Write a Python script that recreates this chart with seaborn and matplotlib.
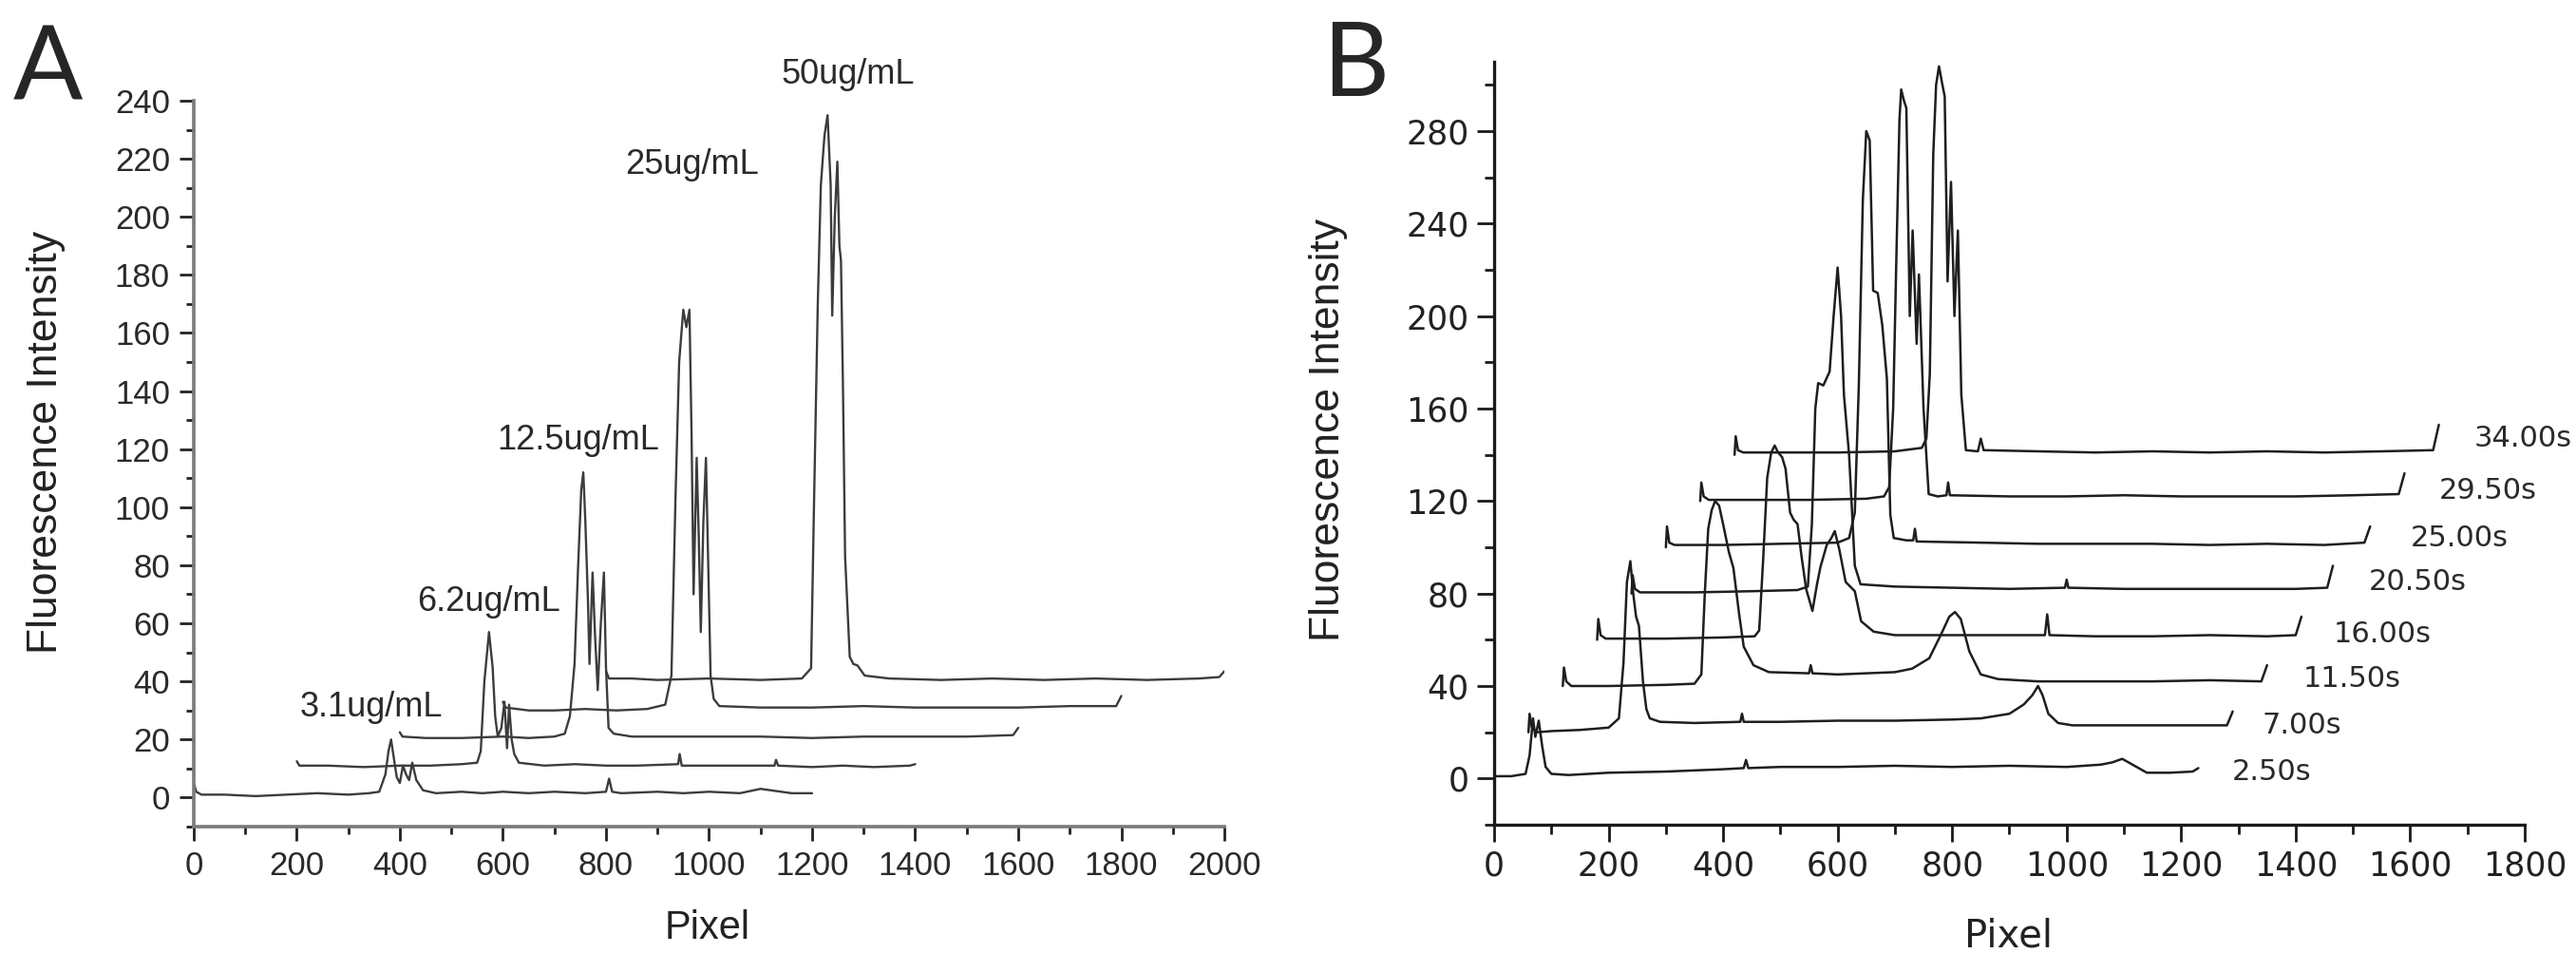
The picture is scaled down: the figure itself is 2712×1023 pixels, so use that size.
import numpy as np
import pandas as pd
import seaborn as sns
import matplotlib.pyplot as plt
from matplotlib.ticker import MultipleLocator

# ---- Panel A: concentration series (pixel, fluorescence intensity) ----
A_NAMES = ["3.1ug/mL", "6.2ug/mL", "12.5ug/mL", "25ug/mL", "50ug/mL"]
A_3_1 = [(0, 5), (5, 2), (15, 1), (60, 1), (120, 0.5), (180, 1), (240, 1.5), (300, 1),
         (340, 1.5), (360, 2), (372, 8), (378, 16), (383, 20), (388, 14), (394, 7),
         (400, 5), (406, 11), (412, 8), (418, 6), (424, 12), (432, 6), (445, 2.5),
         (470, 1.5), (520, 2), (560, 1.5), (600, 2), (650, 1.5), (700, 2), (760, 1.5),
         (800, 2), (806, 6.5), (812, 2), (830, 1.5), (900, 2), (950, 1.5), (1000, 2),
         (1060, 1.5), (1100, 3), (1140, 2), (1160, 1.5), (1200, 1.5)]
A_6_2 = [(200, 12.5), (205, 11), (260, 11), (330, 10.5), (400, 11), (460, 11), (520, 11.5),
         (550, 12), (557, 16), (564, 40), (573, 57), (580, 45), (585, 28), (590, 21),
         (597, 24), (603, 33), (608, 17), (612, 32), (617, 20), (622, 15), (631, 12),
         (680, 11), (740, 11.5), (800, 11), (860, 11), (940, 11.5), (943, 15), (947, 11),
         (1000, 11), (1060, 11), (1127, 11), (1130, 13), (1134, 11), (1200, 10.5),
         (1260, 11), (1320, 10.5), (1390, 11), (1400, 11.5)]
A_12_5 = [(400, 22.5), (405, 21), (450, 20.5), (520, 20.5), (600, 21), (650, 20.5),
          (700, 21), (720, 22), (730, 28), (739, 46), (746, 80), (752, 106), (756, 112),
          (760, 95), (765, 68), (768, 46), (774, 77.5), (779, 55), (784, 37), (790, 60),
          (796, 77.5), (800, 45), (805, 24), (815, 22), (850, 21), (900, 21), (1000, 21),
          (1100, 21), (1200, 20.5), (1300, 21), (1400, 21), (1500, 21), (1590, 21.5),
          (1600, 24)]
A_25 = [(600, 33), (605, 31), (650, 30), (700, 30), (760, 30.5), (820, 30), (880, 30.5),
        (915, 32), (927, 42), (935, 104), (942, 150), (950, 168), (956, 162), (962, 168),
        (966, 126), (970, 70), (976, 117), (980, 90), (984, 57), (989, 95), (994, 117),
        (1003, 42), (1009, 34), (1020, 31.5), (1100, 31), (1200, 31), (1300, 31.5),
        (1400, 31), (1500, 31), (1600, 31), (1700, 31.5), (1790, 31.5), (1800, 35)]
A_50 = [(800, 43.5), (806, 41), (850, 41), (900, 40.5), (1000, 41), (1100, 40.5),
        (1180, 41), (1198, 44.5), (1204, 104), (1211, 170), (1217, 211), (1224, 228),
        (1230, 235), (1236, 211), (1239, 166), (1244, 200), (1249, 219), (1253, 190),
        (1256, 185), (1260, 140), (1264, 83), (1273, 48.5), (1280, 46), (1288, 45.5),
        (1302, 42), (1350, 41), (1450, 40.5), (1550, 41), (1650, 40.5), (1750, 41),
        (1850, 40.5), (1950, 41), (1990, 41.5), (2000, 43.5)]
A_SERIES = [A_3_1, A_6_2, A_12_5, A_25, A_50]
A_LABEL_POS = [(345, 31), (572, 67.5), (746, 123), (966, 218), (1270, 249)]

# ---- Panel B: time series (pixel, fluorescence intensity) ----
B_NAMES = ["2.50s", "7.00s", "11.50s", "16.00s", "20.50s", "25.00s", "29.50s", "34.00s"]
B_2_50 = [(0, 1), (30, 1), (55, 2), (62, 10), (68, 26), (72, 18), (78, 25), (84, 14),
          (90, 5), (100, 2), (130, 1.5), (200, 2.5), (300, 3), (400, 4), (436, 4.5),
          (440, 8), (444, 4.5), (500, 5), (600, 5), (700, 5.5), (800, 5), (900, 5.5),
          (1000, 5), (1060, 6), (1080, 7), (1097, 8.5), (1115, 6), (1140, 2.5),
          (1180, 2.5), (1220, 3), (1230, 4.5)]
B_7_00 = [(60, 20), (62, 28), (66, 22), (75, 20), (100, 20.5), (150, 21), (200, 22),
          (218, 26), (226, 50), (232, 85), (238, 94), (243, 80), (248, 70), (253, 66),
          (260, 42), (266, 30), (272, 26), (290, 24.5), (350, 24), (430, 24.5),
          (433, 28), (436, 24.5), (500, 24.5), (600, 25), (700, 25), (800, 25.5),
          (850, 26), (900, 28), (925, 32), (940, 36), (950, 40), (958, 36), (968, 28),
          (985, 24), (1010, 23), (1100, 23), (1200, 23), (1280, 23), (1290, 29)]
B_11_50 = [(120, 40), (122, 48), (126, 42), (135, 40), (200, 40), (300, 40.5), (350, 41),
           (362, 45), (368, 80), (374, 108), (380, 116), (386, 120), (393, 118),
           (400, 110), (410, 98), (418, 91), (428, 71), (436, 57), (453, 49), (480, 46),
           (550, 45.5), (553, 49), (556, 45.5), (600, 45), (650, 45.5), (700, 46),
           (730, 47.5), (760, 52), (780, 62), (795, 70), (805, 72), (815, 69), (830, 55),
           (850, 45), (880, 43), (950, 42), (1050, 42), (1150, 42), (1250, 42.5),
           (1340, 42), (1350, 49)]
B_16_00 = [(180, 60), (182, 69), (186, 62), (195, 60.5), (300, 60.5), (400, 61),
           (455, 61.5), (463, 64), (470, 95), (477, 130), (484, 141), (490, 144),
           (496, 141), (503, 139), (509, 134), (517, 115), (523, 112), (530, 110),
           (537, 96), (545, 82), (556, 72.5), (564, 84), (570, 91.5), (581, 101),
           (589, 104), (595, 107), (603, 99), (614, 85), (630, 81), (641, 68),
           (663, 63.5), (700, 62), (800, 62), (900, 62), (962, 62), (966, 71), (970, 62),
           (1050, 61.5), (1150, 61.5), (1250, 62), (1350, 61.5), (1400, 62), (1410, 70)]
B_20_50 = [(240, 80), (242, 88), (246, 82), (255, 80.5), (350, 80.5), (450, 81),
           (530, 81.5), (548, 83), (555, 110), (561, 160), (566, 171), (575, 170),
           (586, 176), (593, 200), (600, 221), (606, 200), (611, 166), (620, 140),
           (630, 92), (640, 84), (700, 83), (800, 82.5), (900, 82), (997, 82.5),
           (1000, 86), (1003, 82.5), (1100, 82), (1200, 82), (1300, 82), (1400, 82),
           (1455, 82.5), (1465, 92)]
B_25_00 = [(300, 100), (302, 109), (306, 102), (315, 101), (400, 101), (500, 101.5),
           (600, 102), (620, 104), (630, 115), (637, 170), (644, 250), (650, 280),
           (656, 276), (662, 211), (670, 210), (678, 196), (686, 173), (692, 114),
           (698, 104), (720, 103), (732, 103), (735, 108), (738, 102.5), (850, 102),
           (950, 101.5), (1050, 101.5), (1150, 101.5), (1250, 101), (1350, 101.5),
           (1450, 101), (1520, 102), (1530, 109)]
B_29_50 = [(360, 120), (362, 128), (366, 122), (375, 120.5), (450, 120.5), (550, 120.5),
           (650, 121), (681, 122), (690, 126), (697, 160), (703, 230), (708, 285),
           (711, 298), (716, 293), (720, 290), (726, 200), (731, 237), (738, 188),
           (742, 218), (750, 160), (759, 123), (775, 122), (790, 122.5), (793, 128),
           (796, 122.5), (900, 122), (1000, 122), (1100, 122.5), (1200, 122), (1300, 122),
           (1400, 122), (1500, 122.5), (1580, 123), (1590, 132)]
B_34_00 = [(420, 140), (422, 148), (426, 142), (435, 141), (500, 141), (600, 141),
           (700, 141.5), (747, 143), (755, 147), (761, 175), (767, 270), (772, 300),
           (777, 308), (783, 300), (787, 295), (792, 215), (798, 258), (804, 200),
           (810, 237), (816, 166), (824, 142), (845, 141.5), (850, 147), (855, 142),
           (950, 141.5), (1050, 141), (1150, 141.5), (1250, 141), (1350, 141.5),
           (1450, 141), (1550, 141.5), (1640, 142), (1650, 153)]
B_SERIES = [B_2_50, B_7_00, B_11_50, B_16_00, B_20_50, B_25_00, B_29_50, B_34_00]
B_LABEL_POS = [(1289, 3), (1342, 23), (1413, 43), (1466, 62.5), (1527, 85), (1600, 104),
               (1651, 124.5), (1712, 147)]


def to_frame(names, series):
    rows = []
    for name, pts in zip(names, series):
        for x, y in pts:
            rows.append({"trace": name, "x": x, "y": y})
    return pd.DataFrame(rows)


sns.set_style("ticks")
plt.rcParams["font.family"] = ["Liberation Sans", "DejaVu Sans"]

fig = plt.figure(figsize=(27.12, 10.23), dpi=100)
axA = fig.add_axes([0.0752, 0.1496, 0.4001, 0.7468])
axB = fig.add_axes([0.5800, 0.1515, 0.4001, 0.7850])

# ---------- panel A ----------
dfA = to_frame(A_NAMES, A_SERIES)
sns.lineplot(data=dfA, x="x", y="y", units="trace", estimator=None, sort=False,
             color="#3c3c3c", linewidth=1.7, ax=axA)
axA.set_xlim(0, 2000)
axA.set_ylim(-10, 240)
axA.xaxis.set_major_locator(MultipleLocator(200))
axA.xaxis.set_minor_locator(MultipleLocator(100))
axA.set_yticks(np.arange(0, 241, 20))
axA.yaxis.set_minor_locator(MultipleLocator(10))
for s in ["top", "right"]:
    axA.spines[s].set_visible(False)
for s in ["left", "bottom"]:
    axA.spines[s].set_color("#7a7a7a")
    axA.spines[s].set_linewidth(2.6)
axA.tick_params(which="major", length=11, width=2, color="#222222", labelsize=25,
                labelcolor="#2a2a2a", pad=7)
axA.tick_params(which="minor", length=6, width=2, color="#222222")
axA.set_xlabel("Pixel", fontsize=30, color="#222222")
axA.set_ylabel("Fluorescence Intensity", fontsize=32, color="#222222")
axA.xaxis.set_label_coords(0.4986, -0.114)
axA.yaxis.set_label_coords(-0.1244, 0.53)
for name, (lx, ly) in zip(A_NAMES, A_LABEL_POS):
    axA.text(lx, ly, name, ha="center", va="center", fontsize=26, color="#2a2a2a")

# ---------- panel B ----------
dfB = to_frame(B_NAMES, B_SERIES)
sns.lineplot(data=dfB, x="x", y="y", units="trace", estimator=None, sort=False,
             color="#1e1e1e", linewidth=1.8, ax=axB)
axB.set_xlim(0, 1800)
axB.set_ylim(-20, 310)
axB.xaxis.set_major_locator(MultipleLocator(200))
axB.xaxis.set_minor_locator(MultipleLocator(100))
axB.set_yticks(np.arange(0, 281, 40))
axB.yaxis.set_minor_locator(MultipleLocator(20))
for s in ["top", "right"]:
    axB.spines[s].set_visible(False)
for s in ["left", "bottom"]:
    axB.spines[s].set_color("#1a1a1a")
    axB.spines[s].set_linewidth(2.4)
axB.tick_params(which="major", length=13, width=2, color="#1a1a1a", labelsize=25,
                labelcolor="#222222", pad=6)
axB.tick_params(which="minor", length=7, width=2, color="#1a1a1a")
for lab in axB.get_xticklabels() + axB.get_yticklabels():
    lab.set_family("DejaVu Sans")
axB.set_xlabel("Pixel", fontsize=29, color="#222222", family="DejaVu Sans")
axB.set_ylabel("Fluorescence Intensity", fontsize=32, color="#222222")
axB.xaxis.set_label_coords(0.4995, -0.122)
axB.yaxis.set_label_coords(-0.142, 0.518)
for name, (lx, ly) in zip(B_NAMES, B_LABEL_POS):
    axB.text(lx, ly, name, ha="left", va="center", fontsize=22, color="#2a2a2a",
             family="DejaVu Sans", clip_on=False)

# panel letters
fig.text(0.0052, 0.8983, "A", fontsize=78, family="Lato", ha="left", va="baseline")
fig.text(0.5133, 0.9010, "B", fontsize=78, family="Lato", ha="left", va="baseline")

fig.savefig("out.png", dpi=100, facecolor="white")
